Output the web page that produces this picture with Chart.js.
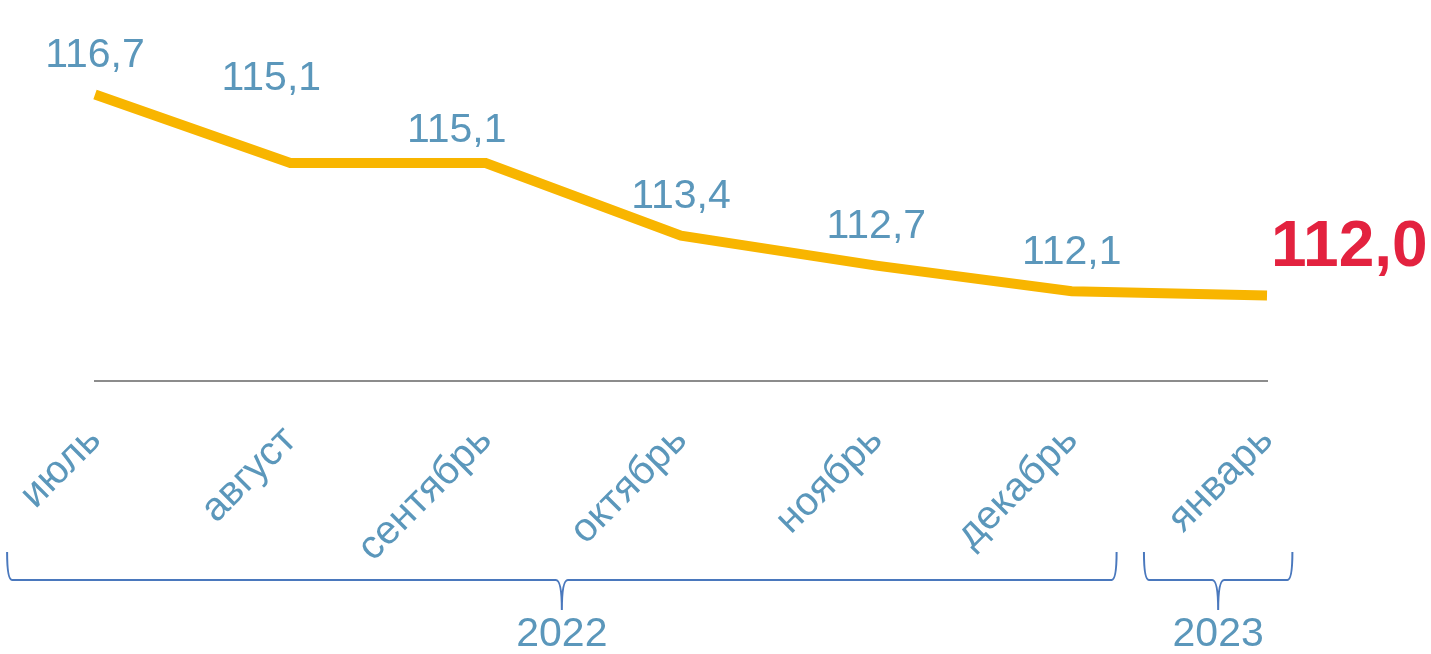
<!DOCTYPE html>
<html>
<head>
<meta charset="utf-8">
<script src="https://cdn.jsdelivr.net/npm/chart.js@4.4.0/dist/chart.umd.min.js"></script>
<style>
    html, body { margin: 0; padding: 0; background: #fff; }
    #wrap { width: 1431px; height: 654px; }
</style>
</head>
<body>
<div id="wrap"><canvas id="myChart"></canvas></div>
<script>
// data
let months = ['июль', 'август', 'сентябрь', 'октябрь', 'ноябрь', 'декабрь', 'январь'];
let values = [116.7, 115.1, 115.1, 113.4, 112.7, 112.1, 112.0];
let years = ['2022', '2023'];
// first and last month index of each year
let yearFrom = [0, 6];
let yearTo = [5, 6];

let blueText = '#5b97bb';
let bracketColor = '#4a78bd';
let fontName = '"Liberation Sans", Arial, sans-serif';

// hand nudges for value labels, like in the original slide
let labelShift = [[0, 0], [-19, -45], [-29, 7], [0, 0], [0, 0], [0, 0], [0, 0]];

function fmt(v) {
    return v.toFixed(1).replace('.', ',');
}

const valueLabels = {
    id: 'valueLabels',
    afterDatasetsDraw(chart) {
        const ctx = chart.ctx;
        const meta = chart.getDatasetMeta(0);
        ctx.save();
        ctx.textBaseline = 'middle';
        meta.data.forEach((pt, i) => {
            if (i === values.length - 1) {
                ctx.font = 'bold 64px ' + fontName;
                ctx.fillStyle = '#e3223f';
                ctx.textAlign = 'left';
                ctx.fillText(fmt(values[i]), pt.x + 4, pt.y - 47);
            } else {
                ctx.font = '41px ' + fontName;
                ctx.fillStyle = blueText;
                ctx.textAlign = 'center';
                ctx.fillText(fmt(values[i]), pt.x + labelShift[i][0], pt.y - 39 + labelShift[i][1]);
            }
        });
        ctx.restore();
    }
};

const yearBrackets = {
    id: 'yearBrackets',
    afterDraw(chart) {
        const ctx = chart.ctx;
        const x = chart.scales.x;
        const step = x.getPixelForValue(1) - x.getPixelForValue(0);
        const base = chart.chartArea.bottom;
        const top = base + 171;
        const mid = base + 199;
        const tip = base + 229;
        // how far each bracket reaches past its first / last month
        const padL = [0.45, 0.63];
        const padR = [0.23, 0.13];
        ctx.save();
        years.forEach((yr, i) => {
            const x1 = x.getPixelForValue(yearFrom[i]) - padL[i] * step;
            const x2 = x.getPixelForValue(yearTo[i]) + padR[i] * step;
            const cx = (x1 + x2) / 2;
            ctx.strokeStyle = bracketColor;
            ctx.lineWidth = 2;
            ctx.beginPath();
            ctx.moveTo(x1, top);
            ctx.quadraticCurveTo(x1, mid, x1 + 5, mid);
            ctx.lineTo(cx - 6, mid);
            ctx.quadraticCurveTo(cx, mid, cx, tip);
            ctx.quadraticCurveTo(cx, mid, cx + 6, mid);
            ctx.lineTo(x2 - 5, mid);
            ctx.quadraticCurveTo(x2, mid, x2, top);
            ctx.stroke();
            ctx.font = '41px ' + fontName;
            ctx.fillStyle = blueText;
            ctx.textAlign = 'center';
            ctx.textBaseline = 'middle';
            ctx.fillText(yr, cx, base + 254);
        });
        ctx.restore();
    }
};

const data = {
    labels: months,
    datasets: [{
        label: 'ИПЦ',
        data: values,
        borderColor: '#f8b500',
        backgroundColor: '#f8b500',
        borderWidth: 10,
        pointRadius: 0,
        tension: 0,
        clip: false
    }]
};

const config = {
    type: 'line',
    data: data,
    options: {
        responsive: true,
        maintainAspectRatio: false,
        animation: false,
        layout: {
            padding: { left: 95, right: 164, top: 39, bottom: 0 }
        },
        plugins: {
            legend: { display: false },
            tooltip: { enabled: false }
        },
        scales: {
            x: {
                offset: false,
                grid: { display: false, drawTicks: false },
                border: { display: true, color: '#8c8c8c', width: 2 },
                ticks: {
                    minRotation: 45,
                    maxRotation: 45,
                    padding: 36,
                    color: blueText,
                    font: { family: fontName, size: 40 }
                },
                afterFit(axis) {
                    axis.height = 273;
                    axis.paddingLeft = 0;
                    axis.paddingRight = 0;
                }
            },
            y: {
                display: false,
                min: 110,
                max: 118
            }
        }
    },
    plugins: [valueLabels, yearBrackets]
};

let myChart = new Chart(document.getElementById('myChart'), config);
</script>
</body>
</html>
